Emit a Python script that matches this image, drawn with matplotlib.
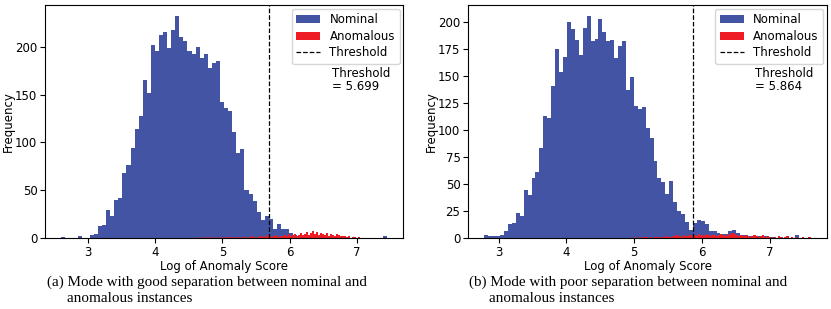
import numpy as np
import matplotlib
matplotlib.use("Agg")
import matplotlib.pyplot as plt

# ---------------- data ----------------
# (a) good separation
a_nom_edges = np.linspace(2.6, 7.45, 81)
a_nom_counts = [1, 0, 0, 0, 2, 0, 0, 3, 4, 13, 14, 29, 23, 40, 42, 68, 76, 94, 114, 128, 165, 152,
                202, 195, 212, 215, 199, 217, 232, 210, 206, 195, 192, 200, 188, 192, 178, 183, 185,
                142, 136, 133, 111, 89, 93, 50, 46, 39, 27,
                19, 23, 20, 9, 15, 9, 9, 5,
                3, 2, 2, 1, 2, 1, 1, 1, 2, 1, 1, 1, 0, 1, 0, 0, 0, 0, 0, 0, 0, 0, 2]
a_anom_edges = np.linspace(4.65, 7.05, 81)
a_anom_counts = [1, 0, 0, 1, 0, 1, 0, 1, 0, 0, 1, 0,
                 1, 0, 1, 1, 0, 1, 0, 1, 1, 0,
                 1, 1, 0, 1, 2, 1, 0, 1, 2, 1,
                 2, 1, 3, 2, 1, 2, 3, 1, 2, 2,
                 3, 2, 4, 2, 3, 4, 2, 3, 5, 3,
                 4, 6, 3, 5, 7, 4, 6, 3, 5, 4,
                 3, 5, 2, 4, 3, 2, 4, 3, 2, 2,
                 2, 1, 2, 0, 1, 1, 0, 1]
a_thr = 5.699

# (b) poor separation
b_nom_edges = np.linspace(2.79, 7.43, 81)
b_nom_counts = [3, 2, 2, 2, 3, 6, 13, 14, 23, 20, 44, 40, 55, 61, 83, 113, 111, 140, 175, 153,
                167, 200, 193, 183, 169, 194, 205, 182, 184, 202, 190, 182, 183, 166,
                177, 182, 137, 149, 122, 119, 121, 102, 92, 71, 55, 52, 41, 53, 33, 25, 22, 15, 7,
                14, 17, 16, 13, 6, 6, 5, 4, 4, 6, 7, 5, 3, 3, 2, 2, 2, 1, 2, 1, 1, 0, 1, 0, 0, 0, 3]
b_anom_edges = np.linspace(5.0, 7.6, 81)
b_anom_counts = [1, 0, 1, 0, 1, 1, 0, 1, 0,
                 1, 1, 0, 1, 1, 2, 1, 1, 2,
                 2, 3, 2, 1, 3, 2, 2, 3, 2,
                 3, 2, 4, 3, 2, 3, 4, 2, 3,
                 3, 2, 3, 4, 3, 2, 4, 3, 5,
                 4, 3, 2, 3, 2, 3, 2, 1, 2,
                 3, 2, 1, 2, 3, 1, 2, 1, 0,
                 1, 0, 2, 1, 0, 1, 2, 0, 1,
                 0, 1, 0, 0, 1, 0, 0, 1]
b_thr = 5.864

blue = '#4354a4'
red = '#ee1c25'
fs = 8.5

fig = plt.figure(figsize=(8.31, 3.09), dpi=100)
ax1 = fig.add_axes([0.0542, 0.2298, 0.431, 0.754])
ax2 = fig.add_axes([0.5632, 0.2298, 0.432, 0.754])

def draw(ax, ne, nc, ae, ac, thr, yticks):
    ax.hist(ne[:-1], bins=ne, weights=nc, color=blue, label='Nominal')
    ax.hist(ae[:-1], bins=ae, weights=ac, color=red, label='Anomalous')
    ax.axvline(thr, color='black', linestyle='--', linewidth=0.9, label='Threshold')
    ax.set_yticks(yticks)
    ax.set_xticks([3, 4, 5, 6, 7])
    ax.tick_params(labelsize=fs, length=3.5, pad=2)
    ax.set_xlabel('Log of Anomaly Score', fontsize=fs, labelpad=1)
    ax.set_ylabel('Frequency', fontsize=fs)
    ax.yaxis.set_label_coords(-0.085, 0.5)
    ax.legend(loc='upper right', fontsize=fs, borderaxespad=0.3, labelspacing=0.3)
    ax.text(0.80, 0.735, 'Threshold\n= %.3f' % thr, transform=ax.transAxes,
            fontsize=fs, va='top', ha='left', linespacing=1.0)

draw(ax1, a_nom_edges, a_nom_counts, a_anom_edges, a_anom_counts, a_thr, [0, 50, 100, 150, 200])
draw(ax2, b_nom_edges, b_nom_counts, b_anom_edges, b_anom_counts, b_thr,
     [0, 25, 50, 75, 100, 125, 150, 175, 200])

cap = dict(fontsize=10.9, family='Liberation Serif', va='center', ha='left')
fig.text(47 / 831, 1 - 282 / 309, '(a) Mode with good separation between nominal and', **cap)
fig.text(67 / 831, 1 - 299 / 309, 'anomalous instances', **cap)
fig.text(469 / 831, 1 - 282 / 309, '(b) Mode with poor separation between nominal and', **cap)
fig.text(489 / 831, 1 - 299 / 309, 'anomalous instances', **cap)

fig.savefig('out.png', dpi=100)
